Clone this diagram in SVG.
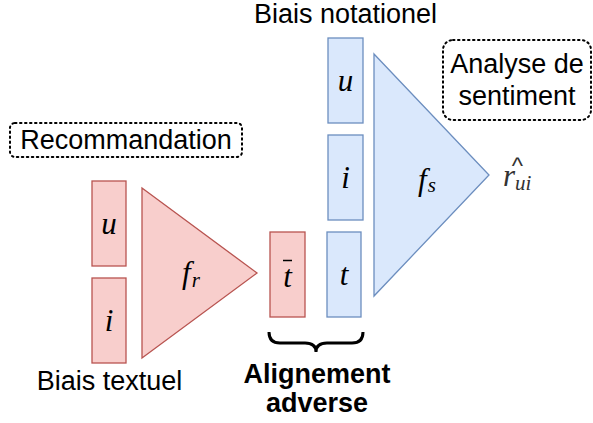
<svg xmlns="http://www.w3.org/2000/svg" width="593" height="423" viewBox="0 0 593 423">
  <style>
    .red { fill: #f8cecc; stroke: #b85450; stroke-width: 1.3; }
    .blue { fill: #dae8fc; stroke: #6c8ebf; stroke-width: 1.3; }
    .note { fill: none; stroke: #000; stroke-width: 2; stroke-dasharray: 1.5 3.5; stroke-linecap: round; }
    .lbl { font-family: "Liberation Sans", Arial, sans-serif; font-size: 27px; fill: #000; text-anchor: middle; }
    .bold { font-weight: bold; }
    .math { font-family: "Liberation Serif", "Times New Roman", serif; font-style: italic; font-size: 31px; fill: #000; }
    .sub { font-size: 21px; }
  </style>

  <!-- annotation boxes -->
  <g id="recommandation">
    <rect class="note" x="10" y="123" width="232" height="34" rx="5"/>
    <text class="lbl" x="126" y="149">Recommandation</text>
  </g>
  <g id="analyse">
    <rect class="note" x="443" y="40" width="148" height="80" rx="10"/>
    <text class="lbl" x="517" y="73">Analyse de</text>
    <text class="lbl" x="517" y="105">sentiment</text>
  </g>

  <!-- recommendation branch -->
  <g id="rec-u">
    <rect class="red" x="92" y="181" width="34" height="85"/>
    <text class="math" x="109" y="234" text-anchor="middle">u</text>
  </g>
  <g id="rec-i">
    <rect class="red" x="92" y="278" width="34" height="85"/>
    <text class="math" x="109" y="331" text-anchor="middle">i</text>
  </g>
  <g id="f-r">
    <polygon class="red" points="142,188 257,273 142,358"/>
    <text class="math" x="182" y="283">f<tspan class="sub" dx="1" dy="4">r</tspan></text>
  </g>
  <g id="t-bar">
    <rect class="red" x="270" y="232" width="35" height="85"/>
    <text class="math" x="287.5" y="287" text-anchor="middle">t</text>
    <line x1="283" y1="260.5" x2="292" y2="260.5" stroke="#000" stroke-width="1.5"/>
  </g>
  <text id="biais-textuel" class="lbl" x="109.5" y="390">Biais textuel</text>

  <!-- sentiment branch -->
  <text id="biais-notationel" class="lbl" x="345.5" y="23">Biais notationel</text>
  <g id="sent-u">
    <rect class="blue" x="328" y="38" width="35" height="85"/>
    <text class="math" x="345.5" y="91" text-anchor="middle">u</text>
  </g>
  <g id="sent-i">
    <rect class="blue" x="328" y="135" width="35" height="85"/>
    <text class="math" x="345.5" y="188" text-anchor="middle">i</text>
  </g>
  <g id="sent-t">
    <rect class="blue" x="327" y="232" width="34" height="85"/>
    <text class="math" x="344" y="285" text-anchor="middle">t</text>
  </g>
  <g id="f-s">
    <polygon class="blue" points="374,54 489,175 374,296"/>
    <text class="math" x="418" y="190">f<tspan class="sub" dx="1" dy="2">s</tspan></text>
  </g>
  <g id="r-hat">
    <text class="math" x="503" y="186" style="fill:#333">r<tspan class="sub" dy="4">ui</tspan></text>
    <text x="517.5" y="174" text-anchor="middle" style="font-family:'Liberation Sans',Arial,sans-serif;font-size:24px;fill:#333">^</text>
  </g>

  <!-- connectors -->
  <g id="connectors">
    <path d="M269,332 Q269,343 280,343 L305,343 Q316,343 316,352 Q316,343 327,343 L352,343 Q363,343 363,332" fill="none" stroke="#000" stroke-width="3"/>
  </g>
  <text id="alignement" class="lbl bold" x="317" y="383">Alignement</text>
  <text class="lbl bold" x="317" y="412">adverse</text>
</svg>
